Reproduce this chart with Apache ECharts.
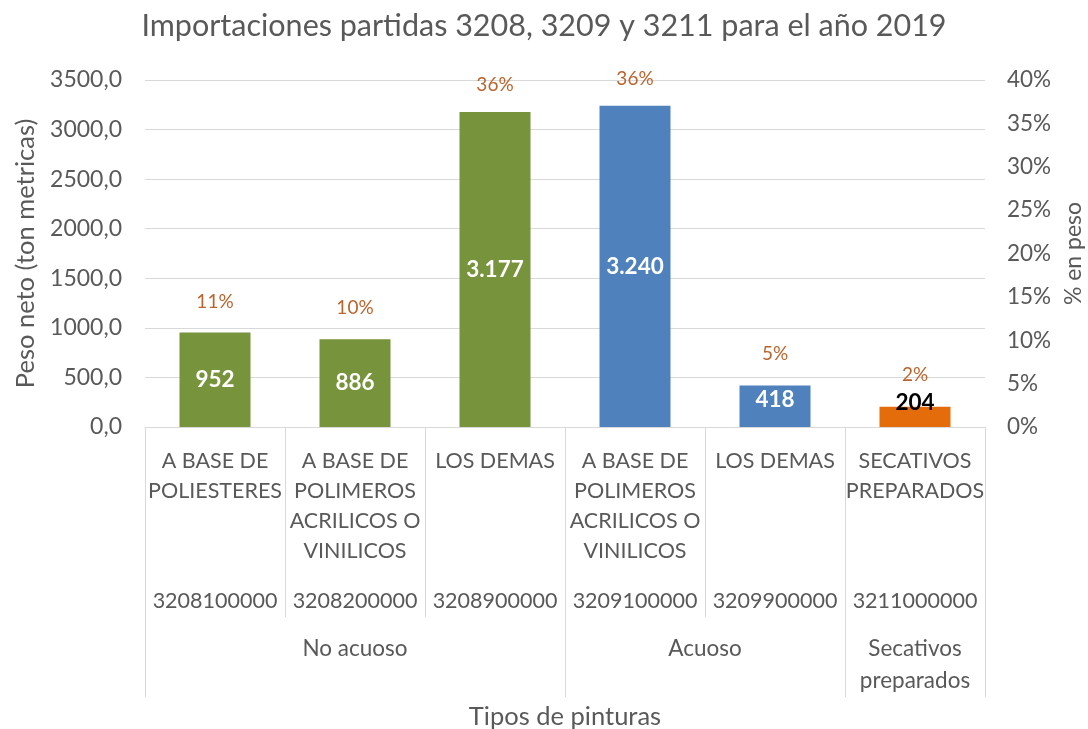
<!DOCTYPE html>
<html>
<head>
<meta charset="utf-8">
<script src="https://cdn.jsdelivr.net/npm/echarts@6/dist/echarts.min.js"></script>
<style>
  html, body { margin: 0; padding: 0; background: #fff; }
  #chart { width: 1088px; height: 729px; }
</style>
</head>
<body>
<div id="chart"></div>
<script>
// data
const productNames = [
  'A BASE DE\nPOLIESTERES',
  'A BASE DE\nPOLIMEROS\nACRILICOS O\nVINILICOS',
  'LOS DEMAS',
  'A BASE DE\nPOLIMEROS\nACRILICOS O\nVINILICOS',
  'LOS DEMAS',
  'SECATIVOS\nPREPARADOS'
];
const productCodes = ['3208100000', '3208200000', '3208900000', '3209100000', '3209900000', '3211000000'];
const groupNames = ['No acuoso', 'Acuoso', 'Secativos\npreparados'];
const weights = [952, 886, 3177, 3240, 418, 204];
const sharePct = [10.7, 10.0, 35.8, 36.4, 4.7, 2.3];
const barColors = ['#77933C', '#77933C', '#77933C', '#4F81BD', '#4F81BD', '#E46C0A'];

// 13 half-step points on the group axis: labels sit at group centres, ticks at group edges
const groupLabelAt = { 3: groupNames[0], 8: groupNames[1], 11: groupNames[2] };
const groupEdges = [0, 6, 10, 12];
const halfSteps = [];
for (let i = 0; i <= 12; i++) halfSteps.push(groupLabelAt[i] || '');

const FONT = 'Lato';
const TXT = '#595959';
const LINE = '#D9D9D9';

function fmtThousands(v) {
  return String(v).replace(/\B(?=(\d{3})+(?!\d))/g, '.');
}

const categories = productNames.map((n, i) => n + '|' + productCodes[i]);

const chart = echarts.init(document.getElementById('chart'));
chart.setOption({
  animation: false,
  textStyle: { fontFamily: FONT },
  title: {
    text: 'Importaciones partidas 3208, 3209 y 3211 para el año 2019',
    left: 'center',
    top: 6,
    textStyle: { fontFamily: FONT, fontSize: 30.5, fontWeight: 'normal', color: TXT }
  },
  grid: { left: 145, right: 103, top: 80, bottom: 302, outerBoundsMode: 'none', containLabel: false },
  xAxis: [
    {
      type: 'category',
      data: categories,
      axisLine: { show: true, lineStyle: { color: LINE, width: 1 } },
      axisTick: { show: true, length: 190, lineStyle: { color: LINE } },
      axisLabel: {
        interval: 0,
        margin: 19,
        color: TXT,
        fontFamily: FONT,
        fontSize: 21.5,
        formatter: function (v) {
          const parts = v.split('|');
          const lines = parts[0].split('\n');
          while (lines.length < 4) lines.push(' ');
          return lines.map(l => '{n|' + l + '}').join('\n') + '\n{s| }\n{c|' + parts[1] + '}';
        },
        rich: {
          n: { lineHeight: 30, fontSize: 21.5, color: TXT, fontFamily: FONT },
          s: { lineHeight: 20, fontSize: 10 },
          c: { lineHeight: 30, fontSize: 21.5, color: TXT, fontFamily: FONT }
        }
      }
    },
    {
      type: 'category',
      data: halfSteps,
      boundaryGap: false,
      position: 'bottom',
      axisLine: { show: false },
      axisTick: {
        show: true,
        length: 270,
        interval: function (i) { return groupEdges.indexOf(i) >= 0; },
        lineStyle: { color: LINE }
      },
      axisLabel: {
        interval: function (i, v) { return v !== ''; },
        margin: 206,
        color: TXT,
        fontFamily: FONT,
        fontSize: 22.5,
        lineHeight: 32
      },
      name: 'Tipos de pinturas',
      nameLocation: 'middle',
      nameGap: 277,
      nameTextStyle: { color: TXT, fontFamily: FONT, fontSize: 25.5 }
    }
  ],
  yAxis: [
    {
      type: 'value',
      min: 0,
      max: 3500,
      interval: 500,
      name: 'Peso neto (ton metricas)',
      nameLocation: 'middle',
      nameRotate: 90,
      nameGap: 100,
      nameTextStyle: { color: TXT, fontFamily: FONT, fontSize: 25.5 },
      axisLine: { show: false },
      axisTick: { show: false },
      splitLine: { show: true, lineStyle: { color: LINE, width: 1 } },
      axisLabel: {
        margin: 23,
        color: TXT,
        fontFamily: FONT,
        fontSize: 23,
        formatter: v => v.toFixed(1).replace('.', ',')
      }
    },
    {
      type: 'value',
      min: 0,
      max: 40,
      interval: 5,
      position: 'right',
      name: '% en peso',
      nameLocation: 'middle',
      nameRotate: 90,
      nameGap: 77,
      nameTextStyle: { color: TXT, fontFamily: FONT, fontSize: 23 },
      axisLine: { show: false },
      axisTick: { show: false },
      splitLine: { show: false },
      axisLabel: {
        margin: 22,
        color: TXT,
        fontFamily: FONT,
        fontSize: 22.5,
        formatter: '{value}%'
      }
    }
  ],
  series: [
    {
      name: 'Peso neto',
      type: 'bar',
      xAxisIndex: 0,
      yAxisIndex: 0,
      barWidth: 71,
      data: weights.map((w, i) => {
        const item = { value: w, itemStyle: { color: barColors[i] } };
        if (i === 4) item.label = { position: 'insideTop', distance: 3 };
        if (i === 5) item.label = { position: 'top', distance: -7, color: '#000' };
        return item;
      }),
      label: {
        show: true,
        position: 'inside',
        color: '#fff',
        fontFamily: FONT,
        fontSize: 22.5,
        fontWeight: 'bold',
        formatter: p => fmtThousands(p.value)
      }
    },
    {
      name: '% en peso',
      type: 'line',
      xAxisIndex: 0,
      yAxisIndex: 1,
      data: sharePct,
      symbol: 'circle',
      symbolSize: 1,
      showSymbol: true,
      itemStyle: { color: 'rgba(0,0,0,0)' },
      lineStyle: { width: 0, opacity: 0 },
      label: {
        show: true,
        position: 'top',
        distance: 22,
        color: '#B9652F',
        fontFamily: FONT,
        fontSize: 19,
        formatter: p => Math.round(p.value) + '%'
      }
    }
  ]
});
</script>
</body>
</html>
